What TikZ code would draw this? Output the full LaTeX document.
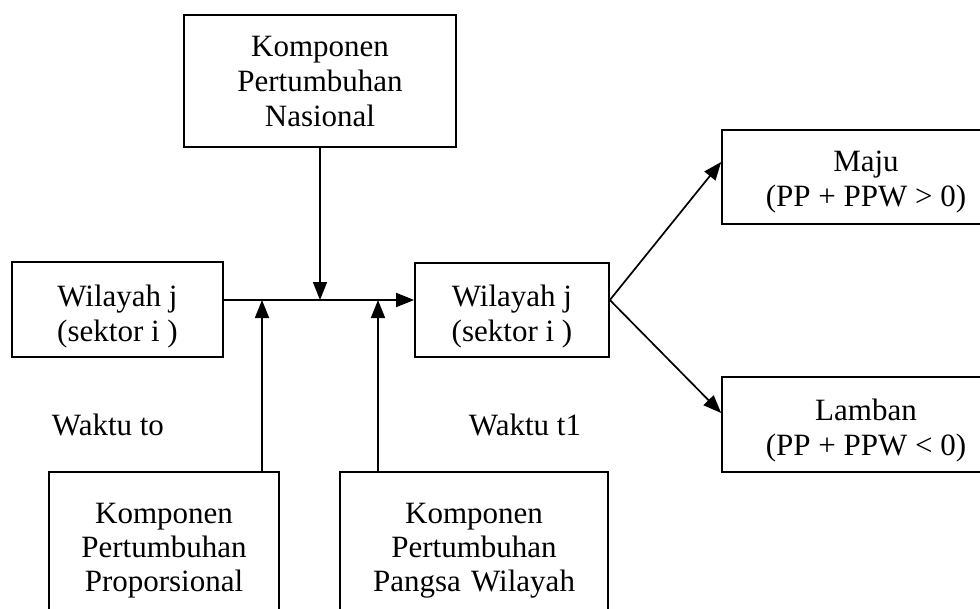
\documentclass[tikz,border=0pt]{standalone}
\usepackage{fontspec}
\setmainfont{Liberation Serif}
\usetikzlibrary{arrows.meta,calc}
\newcommand{\lowered}[2]{\raisebox{-#1}[\height][\depth]{\begin{tabular}{@{}c@{}}#2\end{tabular}}}
\begin{document}
\begin{tikzpicture}[x=1pt,y=-1pt,
 box/.style={draw, line width=1.7pt, inner sep=0pt, font=\fontsize{31}{35}\selectfont},
 bigbox/.style={draw, line width=1.7pt, inner xsep=0pt, inner ysep=31pt, align=center, anchor=north, font=\fontsize{31}{34}\selectfont},
 conn/.style={line width=1.7pt, -{Triangle[length=18pt,width=14pt]}},
 lbl/.style={font=\fontsize{31}{35}\selectfont, inner sep=0pt}]
\useasboundingbox (0,0) rectangle (980,608);
\clip (0,0) rectangle (980,608);
\node[box, align=center, minimum width=272pt, minimum height=132pt] (nas) at (320,81) {Komponen\\Pertumbuhan\\Nasional};
\node[box, minimum width=211pt, minimum height=95pt] (w0) at (117.5,309.5) {\lowered{7pt}{Wilayah j\\(sektor i )}};
\node[box, minimum width=194pt, minimum height=94pt] (w1) at (512,310) {\lowered{7pt}{Wilayah j\\(sektor i )}};
\node[box, minimum width=288pt, minimum height=94pt] (maju) at (866,177) {\lowered{5pt}{Maju\\(PP + PPW > 0)}\hspace{18pt}};
\node[box, minimum width=288pt, minimum height=95pt] (lamb) at (866,424.5) {\lowered{6pt}{Lamban\\(PP + PPW < 0)}\hspace{18pt}};
\node[bigbox, text width=230pt] (prop) at (164,471) {Komponen\\Pertumbuhan\\Proporsional};
\node[bigbox, text width=268pt] (pw) at (474,471) {Komponen\\Pertumbuhan\\Pangsa Wilayah};
\node[lbl] (t0) at (108,425) {Waktu to};
\node[lbl] (t1) at (525,425) {Waktu t1};
\coordinate (h) at (0,300);
\coordinate (xa) at (262,0);
\coordinate (xb) at (378,0);
\coordinate (ya) at (0,162);
\coordinate (yb) at (0,413);
\draw[conn] (nas.south) -- (nas.south |- h);
\draw[conn] (w0.east |- h) -- (w1.west |- h);
\draw[conn] (prop.north -| xa) -- (xa |- h);
\draw[conn] (pw.north -| xb) -- (xb |- h);
\draw[conn] (w1.east |- h) -- (maju.west |- ya);
\draw[conn] (w1.east |- h) -- (lamb.west |- yb);
\end{tikzpicture}
\end{document}
